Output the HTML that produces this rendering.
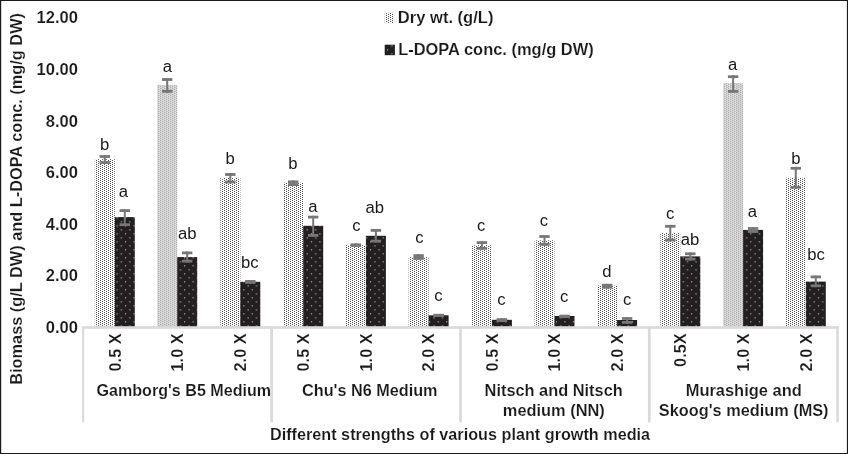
<!DOCTYPE html>
<html><head><meta charset="utf-8"><title>Chart</title>
<style>
html,body{margin:0;padding:0;background:#fff;}
body{width:848px;height:454px;overflow:hidden;}
svg{display:block;}
text{font-family:"Liberation Sans",Arial,Helvetica,sans-serif;fill:#1a1a1a;}
.b{font-weight:bold;stroke:#fff;stroke-width:0.14px;}
</style></head><body>
<svg width="848" height="454" viewBox="0 0 848 454">
<defs>
<pattern id="pl" width="4" height="2" patternUnits="userSpaceOnUse" x="0" y="0"><rect width="4" height="2" fill="#fff"/><rect x="0.05" y="0.05" width="0.9" height="0.9" fill="#222"/><rect x="2.05" y="1.05" width="0.9" height="0.9" fill="#222"/></pattern>
<pattern id="pl2" width="4" height="2" patternUnits="userSpaceOnUse" x="0.3" y="0"><rect width="4" height="2" fill="#e6e6e6"/><rect x="0" y="0" width="1" height="2" fill="#cacaca"/><rect x="2" y="0" width="1" height="2" fill="#cacaca"/><rect x="0" y="0" width="1" height="1" fill="#999"/><rect x="2" y="1" width="1" height="1" fill="#999"/></pattern>
<pattern id="pd" width="8.45" height="8" patternUnits="userSpaceOnUse" x="6.7" y="1.3"><rect width="8.45" height="8" fill="#231f20"/><rect x="0" y="0" width="1.1" height="1.1" fill="#c4c4c4"/><rect x="4.3" y="4.05" width="1.1" height="1.1" fill="#c4c4c4"/></pattern>
</defs>
<rect x="0" y="0" width="848" height="454" fill="#fff"/>
<rect x="94.80" y="159.2" width="20.0" height="168.2" fill="url(#pl)"/>
<rect x="114.80" y="217.1" width="20.0" height="110.3" fill="url(#pd)"/>
<rect x="157.20" y="84.8" width="20.0" height="242.6" fill="url(#pl2)"/>
<rect x="177.20" y="257.1" width="20.0" height="70.3" fill="url(#pd)"/>
<rect x="220.30" y="177.8" width="20.0" height="149.6" fill="url(#pl)"/>
<rect x="240.30" y="281.8" width="20.0" height="45.6" fill="url(#pd)"/>
<rect x="283.20" y="182.7" width="20.0" height="144.7" fill="url(#pl)"/>
<rect x="303.20" y="225.8" width="20.0" height="101.6" fill="url(#pd)"/>
<rect x="345.90" y="245.2" width="20.0" height="82.2" fill="url(#pl)"/>
<rect x="365.90" y="235.8" width="20.0" height="91.6" fill="url(#pd)"/>
<rect x="408.60" y="257.1" width="20.0" height="70.3" fill="url(#pl)"/>
<rect x="428.60" y="315.3" width="20.0" height="12.1" fill="url(#pd)"/>
<rect x="471.90" y="245.2" width="20.0" height="82.2" fill="url(#pl)"/>
<rect x="491.90" y="319.8" width="20.0" height="7.6" fill="url(#pd)"/>
<rect x="534.50" y="240.3" width="20.0" height="87.1" fill="url(#pl)"/>
<rect x="554.50" y="316.0" width="20.0" height="11.4" fill="url(#pd)"/>
<rect x="597.10" y="285.6" width="20.0" height="41.8" fill="url(#pl)"/>
<rect x="617.10" y="320.0" width="20.0" height="7.4" fill="url(#pd)"/>
<rect x="660.30" y="232.9" width="20.0" height="94.5" fill="url(#pl)"/>
<rect x="680.30" y="256.4" width="20.0" height="71.0" fill="url(#pd)"/>
<rect x="723.10" y="83.1" width="20.0" height="244.3" fill="url(#pl2)"/>
<rect x="743.10" y="229.9" width="20.0" height="97.5" fill="url(#pd)"/>
<rect x="785.80" y="177.7" width="20.0" height="149.7" fill="url(#pl)"/>
<rect x="805.80" y="281.6" width="20.0" height="45.8" fill="url(#pd)"/>
<g fill="#dadada">
<rect x="82.0" y="326.2" width="756.8" height="2.6"/>
<rect x="82.0" y="326.2" width="2.2" height="96.1"/>
<rect x="270.2" y="326.2" width="2.8" height="96.1"/>
<rect x="459.1" y="326.2" width="2.8" height="96.1"/>
<rect x="647.9" y="326.2" width="2.8" height="96.1"/>
<rect x="836.2" y="326.2" width="2.6" height="96.1"/>
</g>
<g fill="#777">
<rect x="99.60" y="155.1" width="10.4" height="2.8"/>
<rect x="99.60" y="161.1" width="10.4" height="2.8"/>
<rect x="103.80" y="155.1" width="2.0" height="8.8"/>
<rect x="119.60" y="209.2" width="10.4" height="2.8"/>
<rect x="119.60" y="223.3" width="10.4" height="2.8"/>
<rect x="123.80" y="209.2" width="2.0" height="16.9"/>
<rect x="162.00" y="78.1" width="10.4" height="2.8"/>
<rect x="162.00" y="89.9" width="10.4" height="2.8"/>
<rect x="166.20" y="78.1" width="2.0" height="14.6"/>
<rect x="182.00" y="251.5" width="10.4" height="2.8"/>
<rect x="182.00" y="259.7" width="10.4" height="2.8"/>
<rect x="186.20" y="251.5" width="2.0" height="11.0"/>
<rect x="225.10" y="173.1" width="10.4" height="2.8"/>
<rect x="225.10" y="180.6" width="10.4" height="2.8"/>
<rect x="229.30" y="173.1" width="2.0" height="10.3"/>
<rect x="245.10" y="280.0" width="10.4" height="2.8"/>
<rect x="245.10" y="281.0" width="10.4" height="2.8"/>
<rect x="249.30" y="280.0" width="2.0" height="3.8"/>
<rect x="288.00" y="180.4" width="10.4" height="2.8"/>
<rect x="288.00" y="183.2" width="10.4" height="2.8"/>
<rect x="292.20" y="180.4" width="2.0" height="5.6"/>
<rect x="308.00" y="215.7" width="10.4" height="2.8"/>
<rect x="308.00" y="234.0" width="10.4" height="2.8"/>
<rect x="312.20" y="215.7" width="2.0" height="21.1"/>
<rect x="350.70" y="243.4" width="10.4" height="2.8"/>
<rect x="350.70" y="244.0" width="10.4" height="2.8"/>
<rect x="354.90" y="243.4" width="2.0" height="3.4"/>
<rect x="370.70" y="229.0" width="10.4" height="2.8"/>
<rect x="370.70" y="239.7" width="10.4" height="2.8"/>
<rect x="374.90" y="229.0" width="2.0" height="13.5"/>
<rect x="413.40" y="254.2" width="10.4" height="2.8"/>
<rect x="413.40" y="257.0" width="10.4" height="2.8"/>
<rect x="417.60" y="254.2" width="2.0" height="5.6"/>
<rect x="433.40" y="314.2" width="10.4" height="2.8"/>
<rect x="433.40" y="313.8" width="10.4" height="2.8"/>
<rect x="437.60" y="314.2" width="2.0" height="2.4"/>
<rect x="476.70" y="241.2" width="10.4" height="2.8"/>
<rect x="476.70" y="246.9" width="10.4" height="2.8"/>
<rect x="480.90" y="241.2" width="2.0" height="8.5"/>
<rect x="496.70" y="318.2" width="10.4" height="2.8"/>
<rect x="496.70" y="319.2" width="10.4" height="2.8"/>
<rect x="500.90" y="318.2" width="2.0" height="3.8"/>
<rect x="539.30" y="235.1" width="10.4" height="2.8"/>
<rect x="539.30" y="242.9" width="10.4" height="2.8"/>
<rect x="543.50" y="235.1" width="2.0" height="10.6"/>
<rect x="559.30" y="315.3" width="10.4" height="2.8"/>
<rect x="559.30" y="314.7" width="10.4" height="2.8"/>
<rect x="563.50" y="315.3" width="2.0" height="2.2"/>
<rect x="601.90" y="283.8" width="10.4" height="2.8"/>
<rect x="601.90" y="285.8" width="10.4" height="2.8"/>
<rect x="606.10" y="283.8" width="2.0" height="4.8"/>
<rect x="621.90" y="317.1" width="10.4" height="2.8"/>
<rect x="621.90" y="321.0" width="10.4" height="2.8"/>
<rect x="626.10" y="317.1" width="2.0" height="6.7"/>
<rect x="665.10" y="224.9" width="10.4" height="2.8"/>
<rect x="665.10" y="238.6" width="10.4" height="2.8"/>
<rect x="669.30" y="224.9" width="2.0" height="16.5"/>
<rect x="685.10" y="252.4" width="10.4" height="2.8"/>
<rect x="685.10" y="257.7" width="10.4" height="2.8"/>
<rect x="689.30" y="252.4" width="2.0" height="8.1"/>
<rect x="727.90" y="75.3" width="10.4" height="2.8"/>
<rect x="727.90" y="90.0" width="10.4" height="2.8"/>
<rect x="732.10" y="75.3" width="2.0" height="17.5"/>
<rect x="747.90" y="227.1" width="10.4" height="2.8"/>
<rect x="747.90" y="230.1" width="10.4" height="2.8"/>
<rect x="752.10" y="227.1" width="2.0" height="5.8"/>
<rect x="790.60" y="166.9" width="10.4" height="2.8"/>
<rect x="790.60" y="185.9" width="10.4" height="2.8"/>
<rect x="794.80" y="166.9" width="2.0" height="21.8"/>
<rect x="810.60" y="275.5" width="10.4" height="2.8"/>
<rect x="810.60" y="284.4" width="10.4" height="2.8"/>
<rect x="814.80" y="275.5" width="2.0" height="11.7"/>
</g>
<g font-size="16" text-anchor="middle">
<text transform="translate(104.7 150.0) scale(1.04 1)">b</text>
<text transform="translate(123.3 196.8) scale(1.04 1)">a</text>
<text transform="translate(167.4 71.9) scale(1.04 1)">a</text>
<text transform="translate(187.2 238.8) scale(1.04 1)">ab</text>
<text transform="translate(230.2 163.6) scale(1.04 1)">b</text>
<text transform="translate(249.8 267.6) scale(1.04 1)">bc</text>
<text transform="translate(292.8 168.6) scale(1.04 1)">b</text>
<text transform="translate(312.9 211.8) scale(1.04 1)">a</text>
<text transform="translate(356.4 230.8) scale(1.04 1)">c</text>
<text transform="translate(374.8 212.9) scale(1.04 1)">ab</text>
<text transform="translate(419.4 242.9) scale(1.04 1)">c</text>
<text transform="translate(438.4 300.8) scale(1.04 1)">c</text>
<text transform="translate(481.2 230.8) scale(1.04 1)">c</text>
<text transform="translate(501.3 305.3) scale(1.04 1)">c</text>
<text transform="translate(544.0 225.5) scale(1.04 1)">c</text>
<text transform="translate(564.1 301.7) scale(1.04 1)">c</text>
<text transform="translate(606.9 277.0) scale(1.04 1)">d</text>
<text transform="translate(627.1 305.3) scale(1.04 1)">c</text>
<text transform="translate(670.2 218.5) scale(1.04 1)">c</text>
<text transform="translate(690.1 245.1) scale(1.04 1)">ab</text>
<text transform="translate(732.5 69.8) scale(1.04 1)">a</text>
<text transform="translate(752.4 216.7) scale(1.04 1)">a</text>
<text transform="translate(795.8 163.5) scale(1.04 1)">b</text>
<text transform="translate(816.0 259.7) scale(1.04 1)">bc</text>
</g>
<g class="b" font-size="16.5" text-anchor="end">
<text x="77.9" y="332.8">0.00</text>
<text x="77.9" y="281.2">2.00</text>
<text x="77.9" y="229.7">4.00</text>
<text x="77.9" y="178.1">6.00</text>
<text x="77.9" y="126.6">8.00</text>
<text x="77.9" y="75.0">10.00</text>
<text x="77.9" y="23.4">12.00</text>
</g>
<text class="b" font-size="16.5" transform="translate(22 384.8) rotate(-90)" textLength="371.8" lengthAdjust="spacingAndGlyphs">Biomass (g/L DW) and L-DOPA conc. (mg/g DW)</text>
<rect x="384.7" y="12.7" width="9.4" height="10.5" fill="url(#pl)"/>
<rect x="384.7" y="44.7" width="10.2" height="10.5" fill="url(#pd)"/>
<g class="b" font-size="15.8" text-anchor="middle">
<text transform="translate(445.65 22.7) scale(1.0483 1)">Dry wt. (g/L)</text>
<text transform="translate(495.95 54.7) scale(1.0425 1)">L-DOPA conc. (mg/g DW)</text>
<text transform="translate(183.80 396) scale(1.0200 1)">Gamborg's B5 Medium</text>
<text transform="translate(369.80 396) scale(1.0275 1)">Chu's N6 Medium</text>
<text transform="translate(553.65 396) scale(1.0359 1)">Nitsch and Nitsch</text>
<text transform="translate(553.80 415.8) scale(1.0375 1)">medium (NN)</text>
<text transform="translate(743.70 396) scale(1.0404 1)">Murashige and</text>
<text transform="translate(743.70 415.8) scale(1.0331 1)">Skoog's medium (MS)</text>
<text transform="translate(460.05 439.8) scale(1.0274 1)">Different strengths of various plant growth media</text>
</g>
<g class="b" font-size="16.5" text-anchor="end">
<text transform="translate(120.50 333.5) rotate(-90) scale(0.985 1)">0.5 X</text>
<text transform="translate(182.90 333.5) rotate(-90) scale(0.985 1)">1.0 X</text>
<text transform="translate(246.00 333.5) rotate(-90) scale(0.985 1)">2.0 X</text>
<text transform="translate(308.90 333.5) rotate(-90) scale(0.985 1)">0.5 X</text>
<text transform="translate(371.60 333.5) rotate(-90) scale(0.985 1)">1.0 X</text>
<text transform="translate(434.30 333.5) rotate(-90) scale(0.985 1)">2.0 X</text>
<text transform="translate(497.60 333.5) rotate(-90) scale(0.985 1)">0.5 X</text>
<text transform="translate(560.20 333.5) rotate(-90) scale(0.985 1)">1.0 X</text>
<text transform="translate(622.80 333.5) rotate(-90) scale(0.985 1)">2.0 X</text>
<text transform="translate(686.00 333.5) rotate(-90) scale(0.985 1)">0.5X</text>
<text transform="translate(748.80 333.5) rotate(-90) scale(0.985 1)">1.0 X</text>
<text transform="translate(811.50 333.5) rotate(-90) scale(0.985 1)">2.0 X</text>
</g>
<path d="M0 0H848V454H0Z M1.2 1.0V452.9H846.9V1.0Z" fill="#1a1a1a" fill-rule="evenodd"/>
</svg></body></html>
